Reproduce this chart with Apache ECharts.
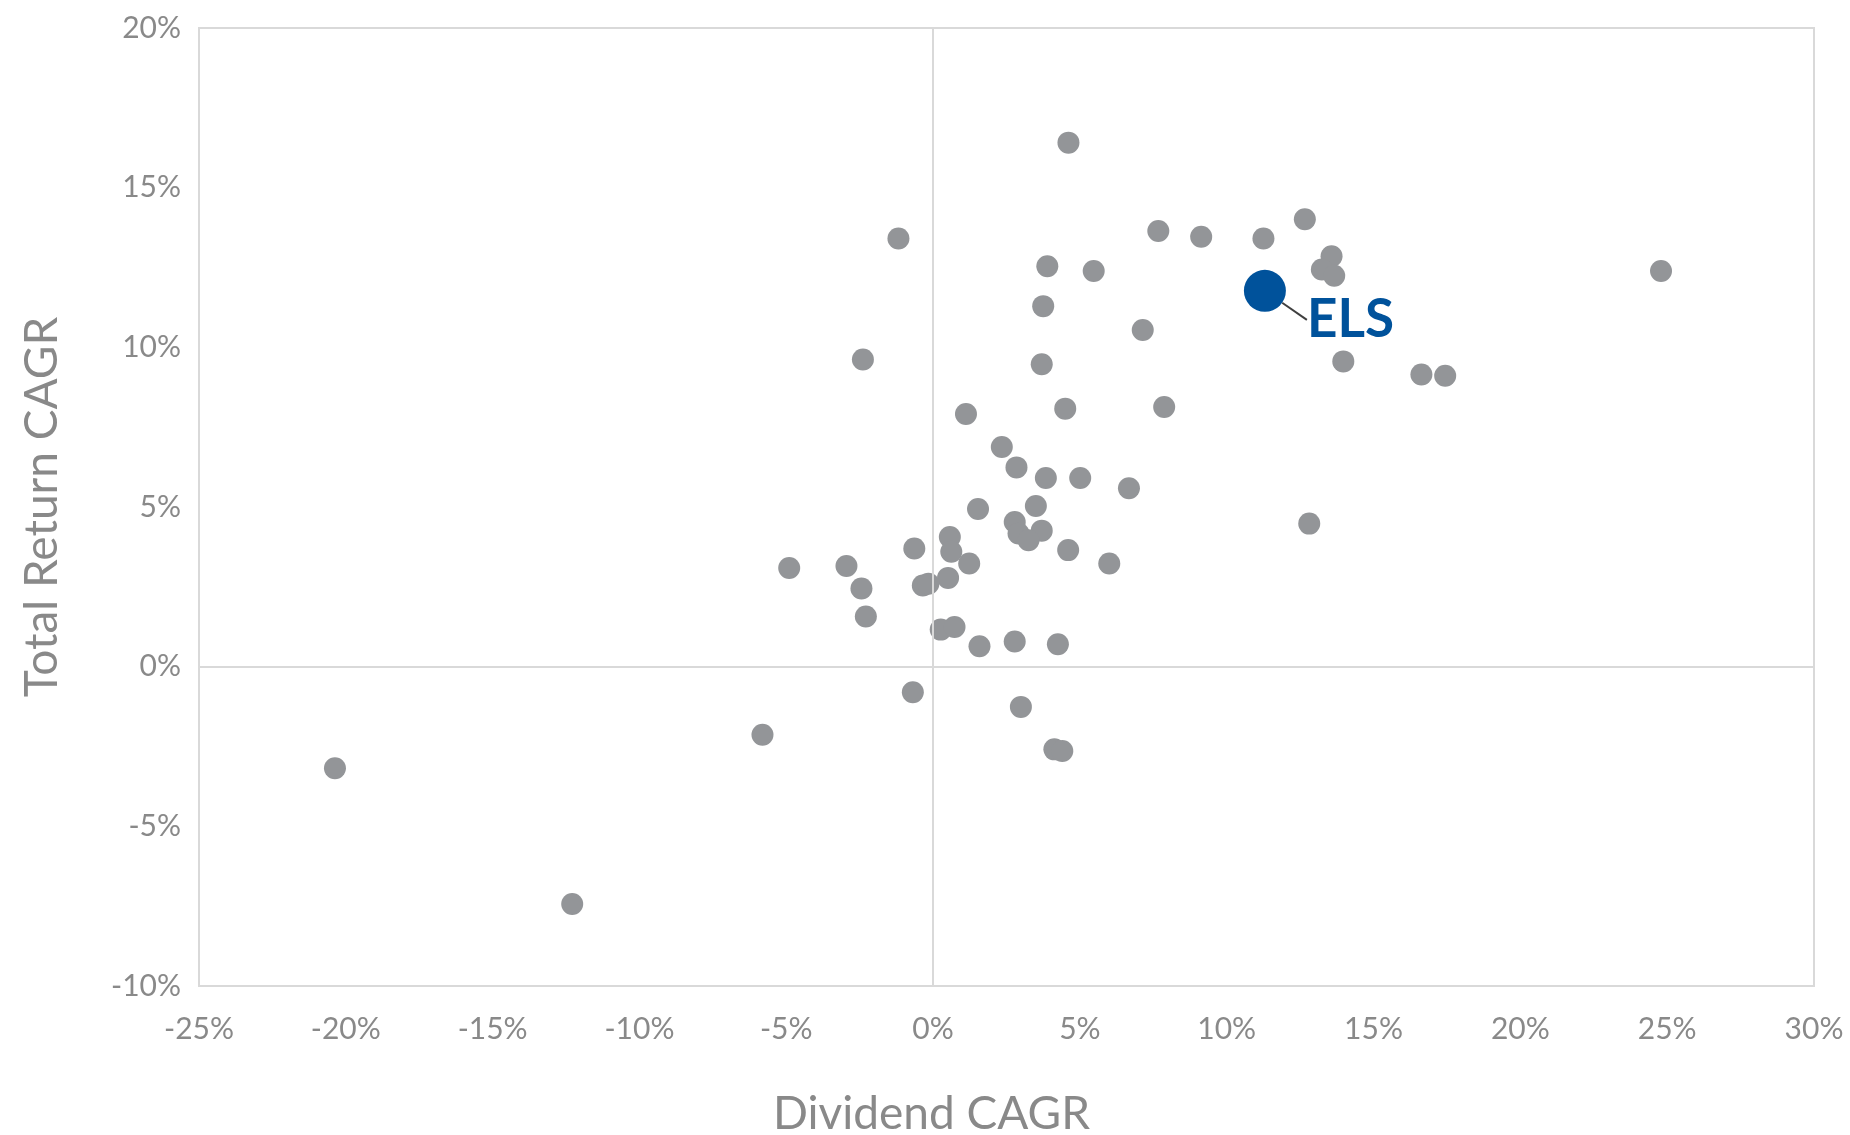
<!DOCTYPE html>
<html style="height: 100%">
<head>
    <meta charset="utf-8">
</head>
<body style="height: 100%; margin: 0; background: #fff">
<div id="container" style="width: 1850px; height: 1135px"></div>
<script type="text/javascript" src="https://cdn.jsdelivr.net/npm/echarts@6/dist/echarts.min.js"></script>
<script type="text/javascript">
// peer REITs, values in %
var peerDividendCagr = [
    4.61, -1.18, 7.67, 9.13, 11.25, 12.66, 3.89, 5.47, 13.57, 13.24,
    13.66, 24.79, 3.75, 7.14, -2.39, 3.70, 13.97, 16.63, 17.44, 1.12,
    4.50, 7.87, 2.34, 2.84, 3.84, 5.01, 6.67, 1.53, 3.50, 2.78,
    12.81, 3.70, 2.91, 3.25, 0.57, -0.64, 0.62, 4.60, 1.23, 6.00,
    -4.90, -2.95, 0.51, -0.35, -0.16, -2.44, -2.29, 0.26, 0.73, 1.58,
    2.78, 4.25, -0.69, 2.99, -5.81, 4.13, 4.40, -20.37, -12.29
];
var peerTotalReturnCagr = [
    16.41, 13.41, 13.64, 13.46, 13.41, 14.01, 12.54, 12.39, 12.85, 12.44,
    12.24, 12.39, 11.29, 10.54, 9.62, 9.47, 9.56, 9.15, 9.11, 7.91,
    8.08, 8.13, 6.88, 6.24, 5.91, 5.91, 5.59, 4.94, 5.03, 4.53,
    4.48, 4.26, 4.17, 3.96, 4.06, 3.70, 3.60, 3.65, 3.23, 3.23,
    3.09, 3.15, 2.78, 2.54, 2.60, 2.45, 1.57, 1.16, 1.24, 0.64,
    0.79, 0.70, -0.80, -1.26, -2.13, -2.59, -2.64, -3.18, -7.43
];
var elsName = 'ELS';
var elsDividendCagr = 11.30;
var elsTotalReturnCagr = 11.77;

var xTicks = { min: -25, max: 30, step: 5 };
var yTicks = { min: -10, max: 20, step: 5 };

var peerPoints = [];
for (var i = 0; i < peerDividendCagr.length; i++) {
    peerPoints.push([peerDividendCagr[i], peerTotalReturnCagr[i]]);
}

var chart = echarts.init(document.getElementById('container'));

var labelFont = 'Lato, "Noto Sans", sans-serif';
var gridGray = '#d9d9d9';

var option = {
    backgroundColor: '#ffffff',
    animation: false,
    grid: {
        left: 199,
        right: 36,
        top: 28,
        bottom: 149,
        outerBoundsMode: 'none',
        show: true,
        borderColor: gridGray,
        borderWidth: 2
    },
    xAxis: {
        type: 'value',
        min: xTicks.min,
        max: xTicks.max,
        interval: xTicks.step,
        name: 'Dividend CAGR',
        nameLocation: 'middle',
        nameGap: 105,
        nameTextStyle: {
            color: '#898989',
            fontSize: 46,
            fontFamily: labelFont,
            padding: [0, 150, 0, 0]
        },
        axisLine: { show: false },
        axisTick: { show: false },
        splitLine: { show: false },
        axisLabel: {
            formatter: '{value}%',
            color: '#898989',
            fontSize: 30,
            fontFamily: labelFont,
            margin: 28
        }
    },
    yAxis: {
        type: 'value',
        min: yTicks.min,
        max: yTicks.max,
        interval: yTicks.step,
        name: 'Total Return CAGR',
        nameLocation: 'middle',
        nameGap: 134,
        nameTextStyle: {
            color: '#898989',
            fontSize: 46,
            fontFamily: labelFont
        },
        axisLine: { show: false },
        axisTick: { show: false },
        splitLine: { show: false },
        axisLabel: {
            formatter: '{value}%',
            color: '#898989',
            fontSize: 30,
            fontFamily: labelFont,
            margin: 18,
            padding: [0, 0, 10, 0]
        }
    },
    series: [
        {
            name: 'Peers',
            type: 'scatter',
            symbolSize: 22,
            itemStyle: { color: '#939598', opacity: 1 },
            data: peerPoints,
            markLine: {
                silent: true,
                symbol: 'none',
                label: { show: false },
                lineStyle: { color: gridGray, width: 2, type: 'solid' },
                data: [{ xAxis: 0 }, { yAxis: 0 }]
            },
            z: 2
        },
        {
            name: elsName,
            type: 'scatter',
            symbolSize: 42,
            itemStyle: { color: '#00529b', opacity: 1 },
            data: [[elsDividendCagr, elsTotalReturnCagr]],
            label: {
                show: true,
                position: 'right',
                formatter: elsName,
                color: '#00529b',
                fontSize: 53,
                fontWeight: 'bold',
                fontFamily: labelFont
            },
            labelLayout: { dx: 16, dy: 29 },
            labelLine: {
                show: true,
                lineStyle: { color: '#3f3f3f', width: 2 }
            },
            z: 3
        }
    ]
};

chart.setOption(option);
</script>
</body>
</html>
